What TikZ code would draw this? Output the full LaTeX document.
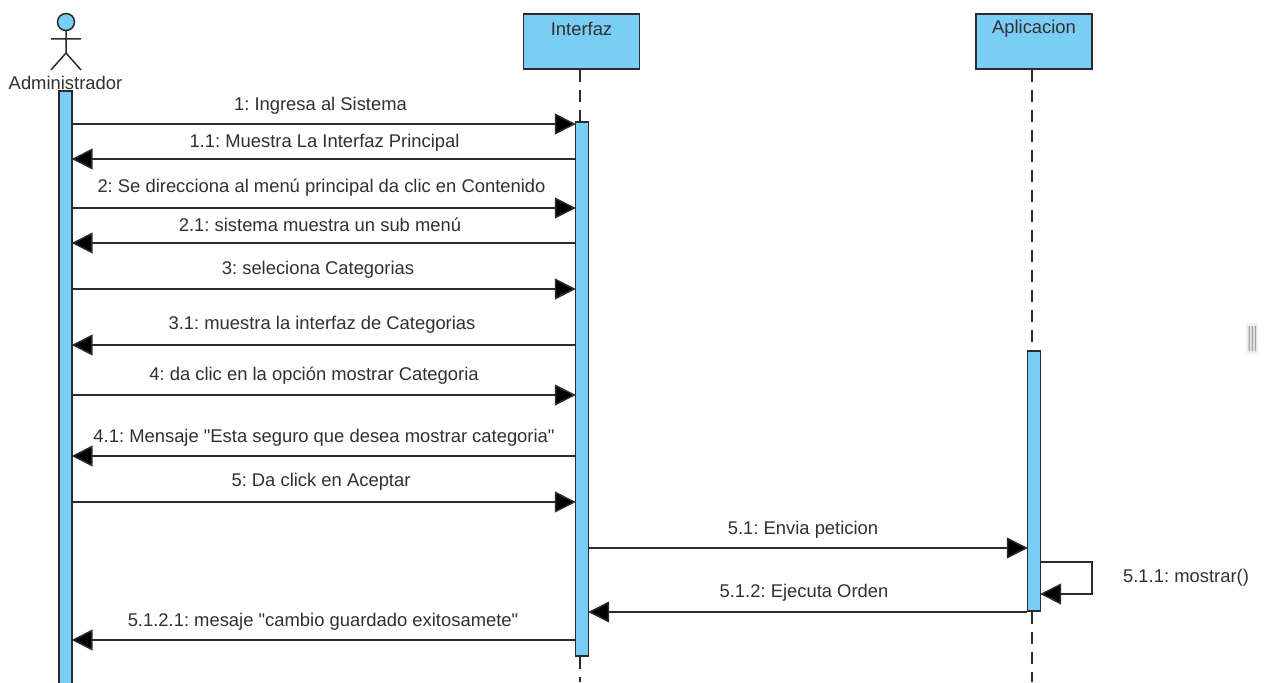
\documentclass[tikz,border=0pt]{standalone}
\usepackage{fontspec}
\setmainfont[Ligatures=TeXReset]{Liberation Sans}
\usetikzlibrary{arrows.meta}
\definecolor{umlblue}{HTML}{7ACDF5}
\definecolor{umlline}{HTML}{2B2B2B}
\definecolor{umltext}{HTML}{303030}
\newcommand{\qt}{\char34\relax}
\tikzset{
  x=1pt,y=-1pt,
  lifebox/.style={draw=umlline,fill=umlblue,line width=1.6pt,minimum width=116pt,minimum height=55pt,inner sep=0pt},
  actbar/.style={draw=umlline,fill=umlblue,line width=1.4pt,minimum width=13pt,inner sep=0pt},
  lifeline/.style={draw=umlline,line width=1.8pt,dash pattern=on 12pt off 8pt},
  msg/.style={draw=umlline,line width=1.5pt,shorten >=-1pt,-{Triangle[length=21pt,width=21pt,fill=black]}},
  lbl/.style={text=umltext,font=\frenchspacing\fontsize{18.4}{20}\selectfont,inner sep=0pt,anchor=center},
}
\begin{document}
\begin{tikzpicture}
\useasboundingbox (0,0) rectangle (1265,682);
% lifelines
\node[lifebox] (boxI) at (581.5,41.5) {};
\node[lbl] (tI) at (581.5,29) {Interfaz};
\node[lifebox] (boxP) at (1034,41.5) {};
\node[lbl] (tP) at (1034,29) {Aplicacion};
\coordinate (endI) at (580,682);
\coordinate (endP) at (1032,682);
\node[actbar,minimum height=594pt] (acA) at (65.5,388) {};
\node[actbar,minimum height=534pt] (acI) at (582,389) {};
\node[actbar,minimum height=260pt] (acP) at (1034,481) {};
\draw[lifeline] (boxI.south -| endI) -- (acI.north -| endI);
\draw[lifeline] (acI.south -| endI) -- (endI);
\draw[lifeline] (boxP.south -| endP) -- (acP.north -| endP);
\draw[lifeline] (acP.south -| endP) -- (endP);
% actor
\node[circle,draw=umlline,fill=umlblue,line width=1.5pt,minimum size=17pt,inner sep=0pt] (head) at (66,22) {};
\coordinate (hip) at (66,53);
\coordinate (armL) at (51,39);
\coordinate (armR) at (81,39);
\coordinate (legL) at (51,70);
\coordinate (legR) at (81,70);
\draw[umlline,line width=1.5pt] (head.south) -- (hip) (armL) -- (armR) (legL) -- (hip) -- (legR);
\node[lbl] (tA) at (65.5,83) {Administrador};
% messages
\draw[msg] (acA.east |- 0,124) -- (acI.west |- 0,124);
\draw[msg] (acI.west |- 0,159) -- (acA.east |- 0,159);
\draw[msg] (acA.east |- 0,208) -- (acI.west |- 0,208);
\draw[msg] (acI.west |- 0,243) -- (acA.east |- 0,243);
\draw[msg] (acA.east |- 0,289) -- (acI.west |- 0,289);
\draw[msg] (acI.west |- 0,345) -- (acA.east |- 0,345);
\draw[msg] (acA.east |- 0,395) -- (acI.west |- 0,395);
\draw[msg] (acI.west |- 0,456) -- (acA.east |- 0,456);
\draw[msg] (acA.east |- 0,502) -- (acI.west |- 0,502);
\draw[msg] (acI.east |- 0,548) -- (acP.west |- 0,548);
\coordinate (selfA) at (1092,562);
\coordinate (selfB) at (1092,594);
\draw[msg] (acP.east |- selfA) -- (selfA) -- (selfB) -- (acP.east |- selfB);
\draw[msg] (acP.west |- 0,612) -- (acI.east |- 0,612);
\draw[msg] (acI.west |- 0,640) -- (acA.east |- 0,640);
% labels
\node[lbl] (l1) at (320.5,106) {1: Ingresa al Sistema};
\node[lbl] (l2) at (324.5,142.5) {1.1: Muestra La Interfaz Principal};
\node[lbl] (l3) at (321.5,187.5) {2: Se direcciona al menú principal da clic en Contenido};
\node[lbl] (l4) at (320,224.5) {2.1: sistema muestra un sub menú};
\node[lbl] (l5) at (318,269.5) {3: seleciona Categorias};
\node[lbl] (l6) at (322,324.5) {3.1: muestra la interfaz de Categorias};
\node[lbl] (l7) at (314,376) {4: da clic en la opción mostrar Categoria};
\node[lbl] (l8) at (324,437.5) {4.1: Mensaje \qt Esta seguro que desea mostrar categoria\qt};
\node[lbl] (l9) at (321,482) {5: Da click en Aceptar};
\node[lbl] (l10) at (803,530) {5.1: Envia peticion};
\node[lbl] (l11) at (804,593) {5.1.2: Ejecuta Orden};
\node[lbl] (l12) at (323,622) {5.1.2.1: mesaje \qt cambio guardado exitosamete\qt};
\node[lbl] (l13) at (1186,578) {5.1.1: mostrar()};
% grip
\fill[gray!12] (1246,323) rectangle (1258,354);
\fill[gray!70] (1248.5,326) rectangle (1250,351) (1251.5,326) rectangle (1253,351) (1254.5,326) rectangle (1256,351);
\end{tikzpicture}
\end{document}
